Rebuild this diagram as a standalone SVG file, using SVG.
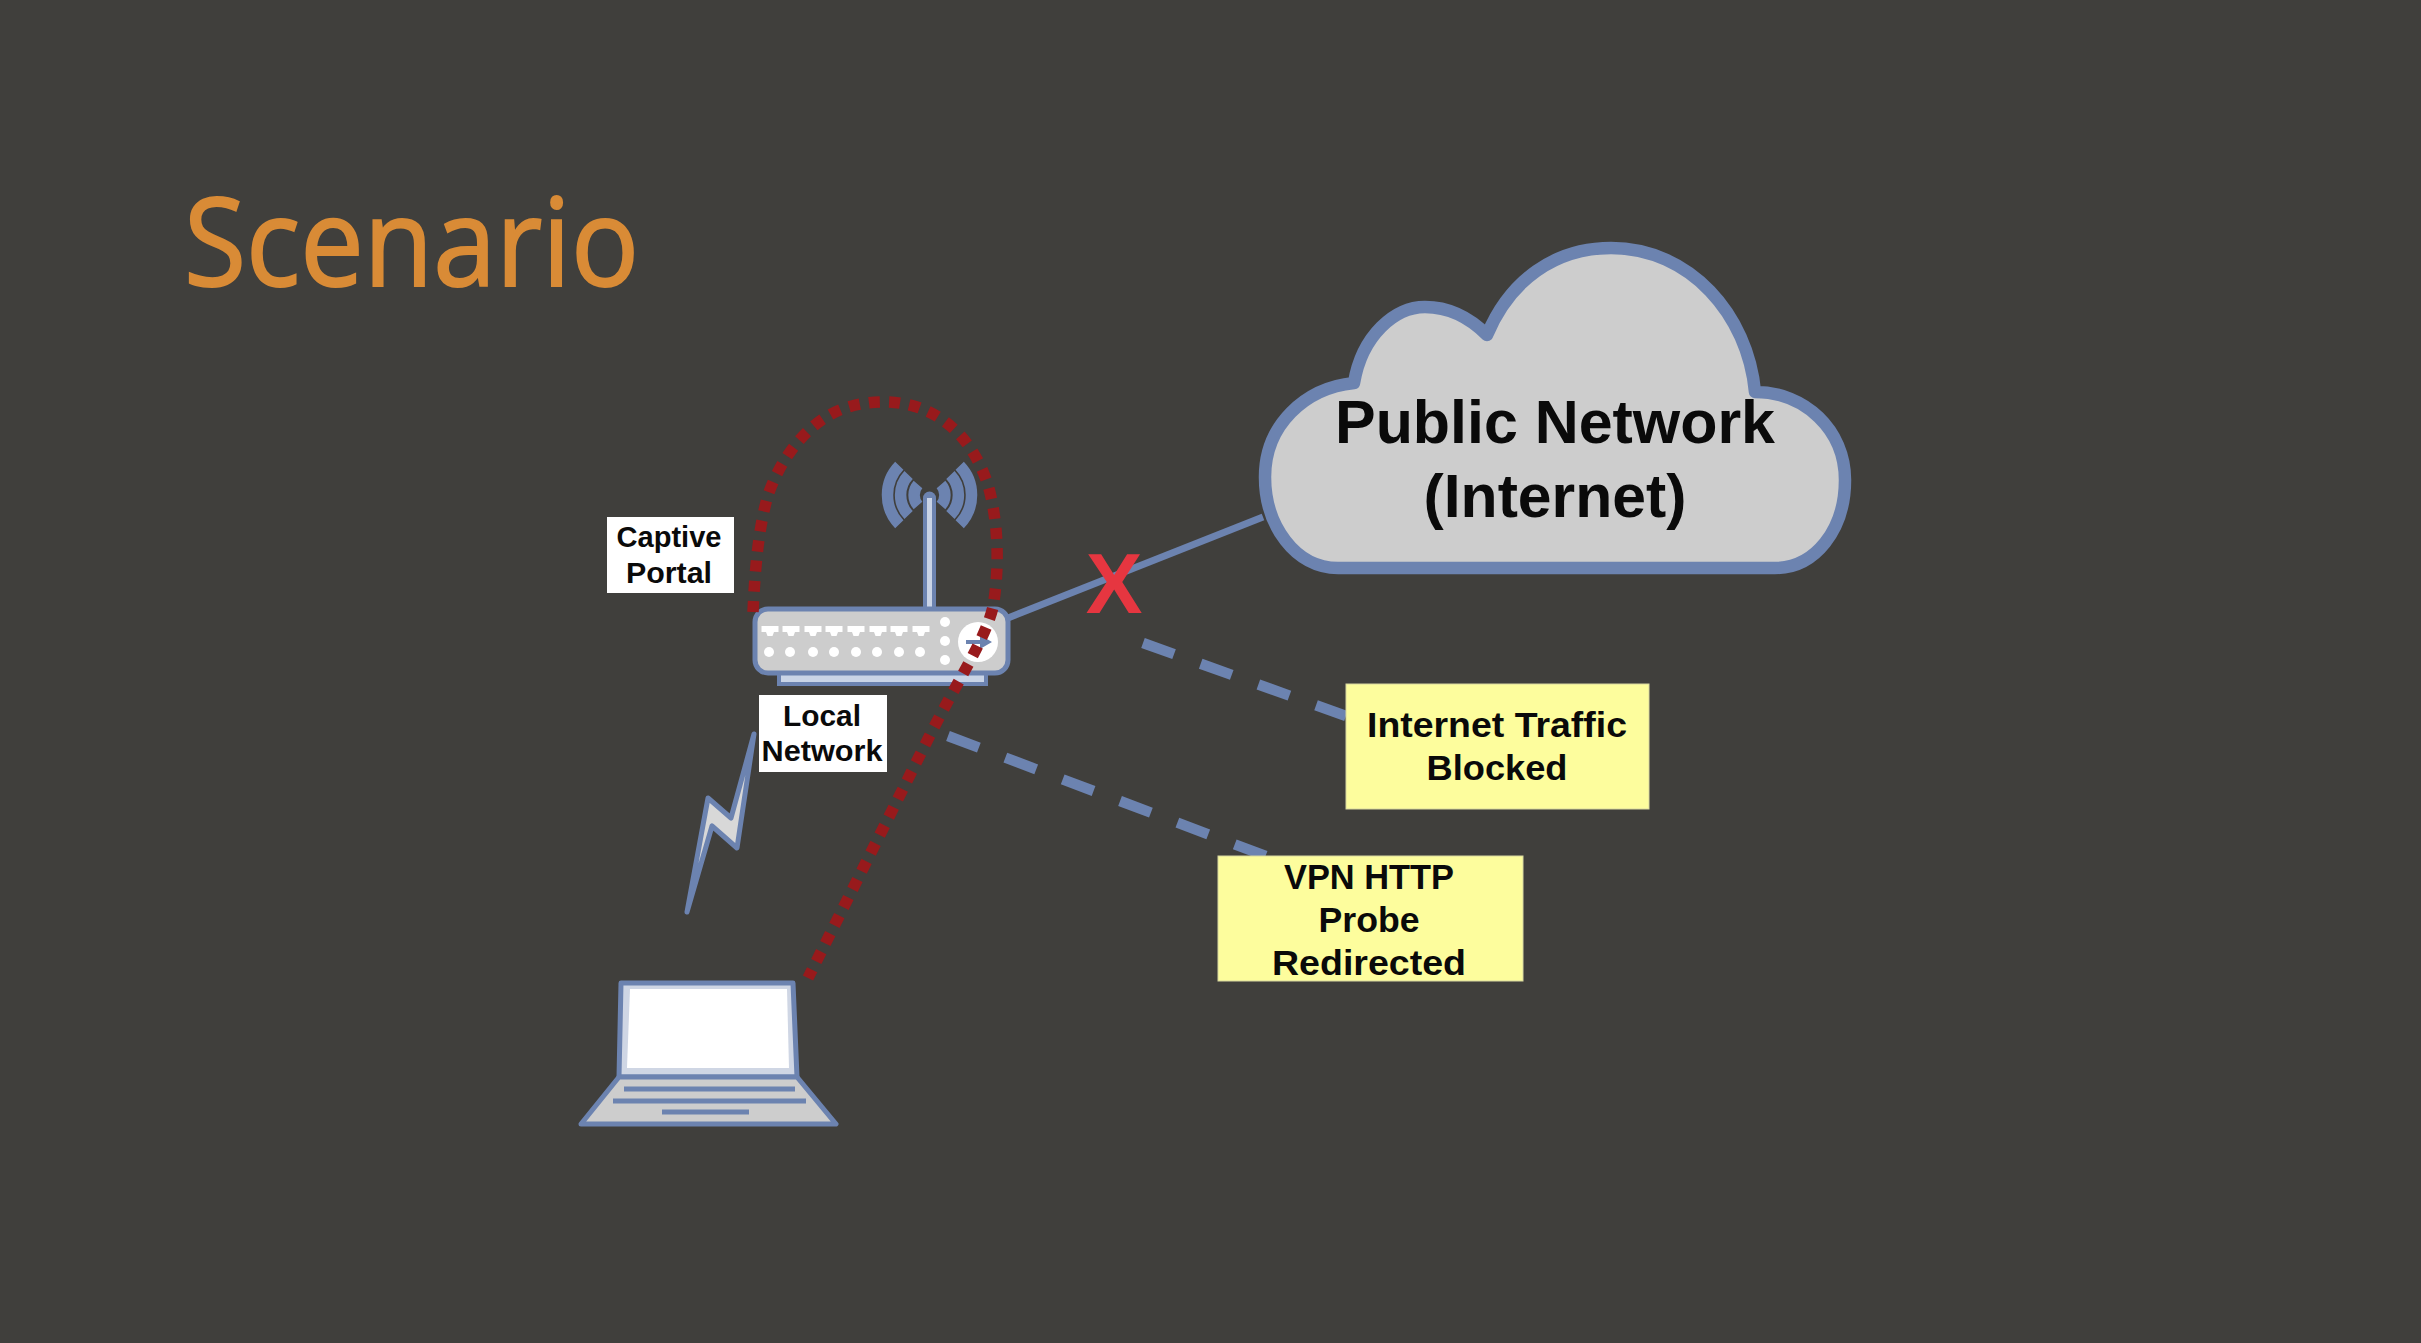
<svg xmlns="http://www.w3.org/2000/svg" width="2421" height="1343" viewBox="0 0 2421 1343">
<defs>
<style>
.sh{stroke:#6c83b0;fill:#cdcdcd;stroke-linejoin:round}
.ln{stroke:#6c83b0;fill:none}
.dash{stroke:#6c83b0;stroke-width:10.5;stroke-dasharray:33 28.3;fill:none}
.wave{stroke:#6c83b0;stroke-width:11.5;fill:none}
.dot{stroke:#981a1c;stroke-width:11.5;stroke-dasharray:11 9.2;fill:none}
.lab{fill:#fff}
.note{fill:#fdfd9d;stroke:#d8d8a0;stroke-width:1}
text{font-family:"Liberation Sans",Arial,sans-serif;font-weight:700;fill:#0a0a0a;text-anchor:middle}
.s{font-size:29px}
.m{font-size:35px}
.l{font-size:62px}
</style>
<path id="port" d="M-8.500 -5H8.500V1H4L2.500 5H-2.500L-4 1H-8.500Z" fill="#fff"/>
</defs>
<rect width="2421" height="1343" fill="#403f3c"/>
<text x="184" y="286" textLength="455" lengthAdjust="spacingAndGlyphs" style="font-family:'Open Sans',sans-serif;font-weight:400;font-size:122px;fill:#d98b36;stroke:#d98b36;stroke-width:2;text-anchor:start">Scenario</text>

<g id="connectors">
<path class="ln" stroke-width="7" d="M1008 618L1263 517"/>
<path class="dash" d="M1143 643L1346 716"/>
<path class="dash" d="M948 736L1271 858"/>
</g>

<g id="cloud">
<path class="sh" stroke-width="12.500" d="M1338 568C1295 568 1265 525 1265 477C1265 425 1305 388 1354 383C1362 335 1395 307 1425 307C1450 307 1470 318 1487 335C1510 280 1555 248 1611 248C1690 248 1748 315 1755 392C1805 392 1845 430 1845 480C1845 530 1815 568 1775 568Z"/>
<text class="l" x="1555" y="443" textLength="440" lengthAdjust="spacingAndGlyphs">Public Network</text>
<text class="l" x="1555" y="517" textLength="263" lengthAdjust="spacingAndGlyphs">(Internet)</text>
</g>

<g id="blocked-x"><text x="1114" y="613" style="font-size:85px;fill:#e63640">X</text></g>

<g id="note-blocked">
<rect class="note" x="1346" y="684" width="303" height="125"/>
<text class="m" x="1497" y="737" textLength="260" lengthAdjust="spacingAndGlyphs">Internet Traffic</text>
<text class="m" x="1497" y="780" textLength="141" lengthAdjust="spacingAndGlyphs">Blocked</text>
</g>
<g id="note-vpn">
<rect class="note" x="1218" y="856" width="305" height="125"/>
<text class="m" x="1369" y="889" textLength="170" lengthAdjust="spacingAndGlyphs">VPN HTTP</text>
<text class="m" x="1369" y="932" textLength="101" lengthAdjust="spacingAndGlyphs">Probe</text>
<text class="m" x="1369" y="975" textLength="194" lengthAdjust="spacingAndGlyphs">Redirected</text>
</g>

<g id="router">
<path class="wave" d="M918 484.500A16 16 0 0 0 918 505.500M908.600 475A29 29 0 0 0 908.600 515M899.300 465.800A42 42 0 0 0 899.300 524.200"/>
<path class="wave" d="M941 484.500A16 16 0 0 1 941 505.500M950.400 475A29 29 0 0 1 950.400 515M959.700 465.800A42 42 0 0 1 959.700 524.200"/>
<path class="ln" stroke-width="13" stroke-linecap="round" d="M929.500 498V610"/>
<path stroke="#cad4e6" stroke-width="5" d="M929.500 498V607"/>
<rect x="779" y="673" width="207" height="11" fill="#c9d4e6" stroke="#6c83b0" stroke-width="4"/>
<rect class="sh" x="755" y="609" width="253" height="64" rx="13" stroke-width="5"/>
<use href="#port" x="770" y="631"/><use href="#port" x="791" y="631"/><use href="#port" x="813" y="631"/><use href="#port" x="834" y="631"/><use href="#port" x="856" y="631"/><use href="#port" x="878" y="631"/><use href="#port" x="899" y="631"/><use href="#port" x="921" y="631"/>
<g fill="#fff"><circle cx="769" cy="652" r="5"/><circle cx="790" cy="652" r="5"/><circle cx="813" cy="652" r="5"/><circle cx="834" cy="652" r="5"/><circle cx="856" cy="652" r="5"/><circle cx="877" cy="652" r="5"/><circle cx="899" cy="652" r="5"/><circle cx="920" cy="652" r="5"/><circle cx="945" cy="622" r="5"/><circle cx="945" cy="641" r="5"/><circle cx="945" cy="660" r="5"/><circle cx="978" cy="642" r="20"/></g>
<path d="M966 640H980V635L992 642L980 649V644H966Z" fill="#6c83b0"/>
</g>

<g id="label-captive">
<rect class="lab" x="607" y="517" width="127" height="76"/>
<text class="s" x="669" y="547" textLength="105" lengthAdjust="spacingAndGlyphs">Captive</text>
<text class="s" x="669" y="583" textLength="86" lengthAdjust="spacingAndGlyphs">Portal</text>
</g>
<g id="label-local">
<rect class="lab" x="759" y="695" width="128" height="77"/>
<text class="s" x="822" y="726" textLength="78" lengthAdjust="spacingAndGlyphs">Local</text>
<text class="s" x="822" y="761" textLength="121" lengthAdjust="spacingAndGlyphs">Network</text>
</g>

<g id="wireless">
<path d="M754 734L737 848L712 826L687 912L708 798L731 818Z" fill="#d8d8d8" stroke="#6c83b0" stroke-width="5" stroke-linejoin="round"/>
</g>

<g id="laptop">
<path class="sh" stroke-width="5" d="M621 983H793L797 1077H619Z" style="fill:#cfd6e4"/>
<path d="M630 989H787L789 1068H627Z" fill="#fff"/>
<path class="sh" stroke-width="5" d="M619 1077H797L836 1124H581Z"/>
<path class="ln" stroke-width="5" d="M624 1089H795M613 1101H806M662 1112H749"/>
</g>

<g id="dotted-path">
<path class="dot" d="M753 612C755 570 758 530 768 495C782 455 810 420 845 408C870 400 895 400 917 407C950 418 975 445 988 485C998 520 1000 565 993 607C985 640 958 680 930 735L808 978"/>
</g>
</svg>
